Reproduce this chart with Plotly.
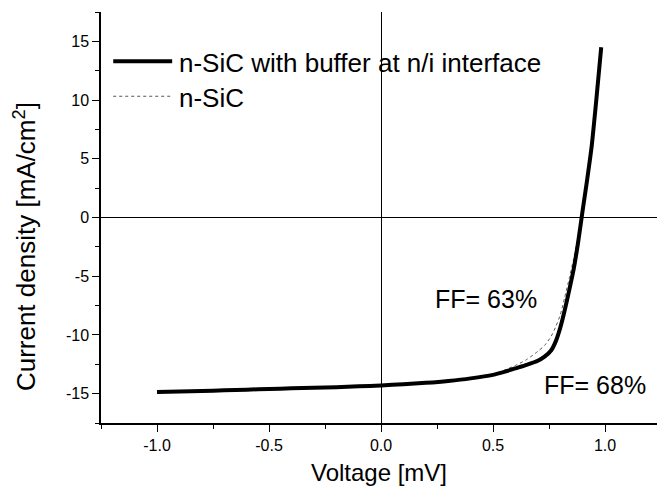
import plotly.graph_objects as go

# J-V characteristics of the two cells
voltage_buffer = [-1.0, -0.9, -0.8, -0.7, -0.6, -0.5, -0.4, -0.3, -0.2, -0.1, 0.0,
                  0.1, 0.2, 0.3, 0.4, 0.5, 0.55, 0.6, 0.65, 0.7, 0.73, 0.76, 0.78,
                  0.8, 0.82, 0.84, 0.86, 0.88, 0.9, 0.92, 0.94, 0.96, 0.983]
current_buffer = [-14.85, -14.82, -14.78, -14.72, -14.66, -14.6, -14.55, -14.5, -14.45, -14.38, -14.3,
                  -14.2, -14.08, -13.92, -13.7, -13.4, -13.15, -12.85, -12.55, -12.2, -11.85, -11.3, -10.55,
                  -9.4, -7.9, -6.2, -4.4, -2.1, 0.6, 3.2, 6.0, 9.8, 14.5]

voltage_nsic = [-1.0, -0.9, -0.8, -0.7, -0.6, -0.5, -0.4, -0.3, -0.2, -0.1, 0.0,
                0.1, 0.2, 0.3, 0.4, 0.5, 0.55, 0.6, 0.65, 0.7, 0.73, 0.76, 0.78,
                0.8, 0.82, 0.84, 0.86, 0.88, 0.9, 0.92, 0.94, 0.96, 0.983]
current_nsic = [-14.85, -14.82, -14.78, -14.72, -14.66, -14.6, -14.55, -14.5, -14.45, -14.38, -14.3,
                -14.2, -14.08, -13.92, -13.7, -13.35, -13.0, -12.6, -12.1, -11.4, -10.9, -10.1, -9.3,
                -8.3, -6.8, -5.2, -3.5, -1.6, 0.7, 3.3, 6.1, 9.8, 14.5]

series_names = ["n-SiC with buffer at n/i interface", "n-SiC"]
fill_factors = ["FF= 63%", "FF= 68%"]
ff_positions = [(0.47, -6.9), (0.955, -14.3)]

x_tick_vals = [-1.0, -0.5, 0.0, 0.5, 1.0]
x_tick_text = ["-1.0", "-0.5", "0.0", "0.5", "1.0"]
x_minor_vals = [-1.25, -0.75, -0.25, 0.25, 0.75]
y_tick_vals = [-15, -10, -5, 0, 5, 10, 15]
y_tick_text = ["-15", "-10", "-5", "0", "5", "10", "15"]
y_minor_vals = [-17.5, -12.5, -7.5, -2.5, 2.5, 7.5, 12.5, 17.5]

FONT = "Liberation Sans, Arial, sans-serif"

fig = go.Figure()
fig.add_trace(go.Scatter(x=voltage_nsic, y=current_nsic, mode="lines",
                         line=dict(color="#555555", width=1, dash="dot", shape="spline", smoothing=0.6),
                         name=series_names[1], showlegend=False))
fig.add_trace(go.Scatter(x=voltage_buffer, y=current_buffer, mode="lines",
                         line=dict(color="black", width=4, shape="spline", smoothing=0.6),
                         name=series_names[0], showlegend=False))

# legend drawn as sample lines with labels
legend_rows = [(0.880, dict(color="black", width=4), series_names[0]),
               (0.795, dict(color="#555555", width=1, dash="dot"), series_names[1])]
for ypos, lstyle, label in legend_rows:
    fig.add_shape(type="line", xref="paper", yref="paper", x0=0.022, x1=0.128,
                  y0=ypos, y1=ypos, line=lstyle)
    fig.add_annotation(xref="paper", yref="paper", x=0.136, y=ypos - 0.004, text=label,
                       showarrow=False, xanchor="left", yanchor="middle",
                       font=dict(family=FONT, size=26, color="black"))

for txt, (fx, fy) in zip(fill_factors, ff_positions):
    fig.add_annotation(x=fx, y=fy, text=txt, showarrow=False,
                       font=dict(family=FONT, size=25, color="black"))

# vertical axis title
fig.add_annotation(xref="paper", yref="paper", x=-0.137, y=0.43, textangle=-90,
                   text="Current density [mA/cm<sup>2</sup>]", showarrow=False,
                   xanchor="center", yanchor="middle",
                   font=dict(family=FONT, size=26, color="black"))

axis_common = dict(showline=True, linecolor="black", linewidth=1.5, ticks="outside",
                   ticklen=7, tickwidth=1.3, tickcolor="black", showgrid=False,
                   zeroline=True, zerolinecolor="black", zerolinewidth=1.3,
                   tickfont=dict(family=FONT, size=16, color="black"))

fig.update_xaxes(range=[-1.25, 1.232], tickmode="array", tickvals=x_tick_vals, ticktext=x_tick_text,
                 minor=dict(tickmode="array", tickvals=x_minor_vals, ticks="outside", ticklen=4,
                            tickcolor="black", tickwidth=1.3),
                 title=dict(text="Voltage [mV]", font=dict(family=FONT, size=24, color="black"), standoff=11),
                 **axis_common)
fig.update_yaxes(range=[-17.5, 17.5], tickmode="array", tickvals=y_tick_vals, ticktext=y_tick_text,
                 minor=dict(tickmode="array", tickvals=y_minor_vals, ticks="outside", ticklen=4,
                            tickcolor="black", tickwidth=1.3),
                 **axis_common)

fig.update_layout(width=657, height=494, margin=dict(l=101, r=0, t=12, b=71),
                  plot_bgcolor="white", paper_bgcolor="white", showlegend=False)

fig.write_html("out.html")
